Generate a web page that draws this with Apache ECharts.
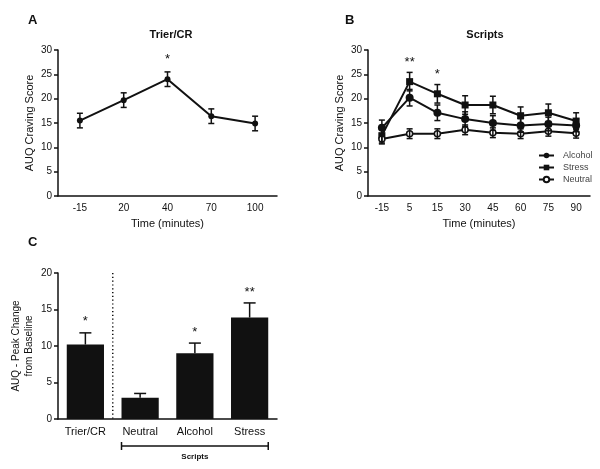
<!DOCTYPE html>
<html><head><meta charset="utf-8">
<script src="https://cdn.jsdelivr.net/npm/echarts@6/dist/echarts.min.js"></script>
<style>html,body{margin:0;padding:0;background:#fff}#c{width:600px;height:469px}</style>
</head><body><div id="c"></div>
<script>
const timesA = ['-15','20','40','70','100'];
const trierMean = [15.5,19.7,24.0,16.4,14.9];
const trierErr = [1.5,1.5,1.5,1.5,1.5];
const trierStars = ['','','*','',''];

const timesB = ['-15','5','15','30','45','60','75','90'];
const alcoholMean = [14.0,20.2,17.1,15.8,15.0,14.5,14.8,14.5];
const alcoholErr = [1.6,1.7,1.6,1.5,1.5,1.4,1.4,1.3];
const stressMean = [12.4,23.5,21.0,18.7,18.7,16.5,17.1,15.4];
const stressErr = [1.5,1.9,1.9,1.9,1.8,1.8,1.8,1.7];
const neutralMean = [11.7,12.8,12.8,13.6,13.0,12.8,13.3,12.9];
const neutralErr = [1.0,1.0,1.0,1.0,1.0,1.0,1.0,1.0];
const scriptStars = ['','**','*','','','','',''];

const peakCats = ['Trier/CR','Neutral','Alcohol','Stress'];
const peakMean = [10.2,2.9,9.0,13.9];
const peakErr = [1.6,0.6,1.4,2.0];
const peakStars = ['*','','*','**'];

const FONT = '"Liberation Sans", Arial, sans-serif';
const INK = '#111';

function errData(means, errs, stars){
  return means.map((m,i)=>[i, m, errs[i], stars ? stars[i] : '']);
}
function errRender(capW, starGap, upOnly){
  return function(params, api){
    const i = api.value(0), m = api.value(1), e = api.value(2);
    const star = api.value(3);
    const top = api.coord([i, m + e]);
    const bot = api.coord([i, upOnly ? m : m - e]);
    const st = {stroke: INK, lineWidth: 1.5};
    const children = [
      {type:'line', shape:{x1:top[0], y1:top[1], x2:bot[0], y2:bot[1]}, style:st},
      {type:'line', shape:{x1:top[0]-capW, y1:top[1], x2:top[0]+capW, y2:top[1]}, style:st}
    ];
    if (!upOnly) children.push({type:'line', shape:{x1:bot[0]-capW, y1:bot[1], x2:bot[0]+capW, y2:bot[1]}, style:st});
    if (star) children.push({type:'text', style:{text: star, x: top[0], y: top[1]-starGap, align:'center', verticalAlign:'middle', fontSize:13, fontFamily:FONT, fill:INK}});
    return {type:'group', children};
  };
}

function yAxisCfg(gi, max, name, gap){
  return {
    type:'value', gridIndex:gi, min:0, max:max, interval:5,
    name:name, nameLocation:'middle', nameGap:gap, nameRotate:90,
    nameTextStyle:{fontSize: gi===2?10:11, fontFamily:FONT, color:INK, lineHeight:13},
    splitLine:{show:false},
    axisLine:{show:true, lineStyle:{color:INK, width:1.5}},
    axisTick:{show:true, length:4, lineStyle:{color:INK, width:1.5}},
    axisLabel:{fontSize:10, fontFamily:FONT, color:INK, margin:6}
  };
}
function xAxisCfg(gi, data, name, fs){
  return {
    type:'category', gridIndex:gi, data:data,
    name:name, nameLocation:'middle', nameGap:22,
    nameTextStyle:{fontSize:11, fontFamily:FONT, color:INK},
    axisLine:{show:true, lineStyle:{color:INK, width:1.5}},
    axisTick:{show:false},
    axisLabel:{fontSize:fs, fontFamily:FONT, color:INK, margin:7, interval:0}
  };
}

const chart = echarts.init(document.getElementById('c'), null, {renderer:'canvas'});
const titleStyle = {fontSize:11, fontWeight:'bold', fontFamily:FONT, color:INK};
const letterStyle = {fontSize:13, fontWeight:'bold', fontFamily:FONT, color:INK};

chart.setOption({
  animation:false,
  backgroundColor:'#fff',
  title:[
    {text:'A', left:23, top:9, textStyle:letterStyle},
    {text:'Trier/CR', left:166, top:24, textAlign:'center', textStyle:titleStyle},
    {text:'B', left:340, top:9, textStyle:letterStyle},
    {text:'Scripts', left:480, top:24, textAlign:'center', textStyle:titleStyle},
    {text:'C', left:23, top:231, textStyle:letterStyle}
  ],
  legend:{
    data:['Alcohol','Stress','Neutral'], orient:'vertical', left:533, top:146,
    itemWidth:15, itemHeight:7, itemGap:3,
    textStyle:{fontSize:9, fontFamily:FONT, color:'#444', padding:[0,0,0,4]}
  },
  grid:[
    {left:58, top:50, width:219, height:146},
    {left:368, top:50, width:222, height:146},
    {left:58, top:273, width:219, height:146}
  ],
  xAxis:[
    xAxisCfg(0, timesA, 'Time (minutes)', 10),
    xAxisCfg(1, timesB, 'Time (minutes)', 10),
    xAxisCfg(2, peakCats, '', 11)
  ],
  yAxis:[
    yAxisCfg(0, 30, 'AUQ Craving Score', 22),
    yAxisCfg(1, 30, 'AUQ Craving Score', 22),
    yAxisCfg(2, 20, 'AUQ - Peak Change\nfrom Baseline', 22)
  ],
  series:[
    {type:'line', name:'Trier/CR', xAxisIndex:0, yAxisIndex:0, data:trierMean,
     symbol:'circle', symbolSize:6, lineStyle:{color:INK, width:2}, itemStyle:{color:INK}, z:3},
    {type:'custom', name:'errA', xAxisIndex:0, yAxisIndex:0, data:errData(trierMean, trierErr, trierStars),
     renderItem:errRender(3, 12, false), clip:false, z:4},

    {type:'line', name:'Alcohol', xAxisIndex:1, yAxisIndex:1, data:alcoholMean,
     symbol:'circle', symbolSize:8, lineStyle:{color:INK, width:2}, itemStyle:{color:INK}, z:3},
    {type:'line', name:'Stress', xAxisIndex:1, yAxisIndex:1, data:stressMean,
     symbol:'rect', symbolSize:7, lineStyle:{color:INK, width:2}, itemStyle:{color:INK}, z:3},
    {type:'line', name:'Neutral', xAxisIndex:1, yAxisIndex:1, data:neutralMean,
     symbol:'circle', symbolSize:6, showAllSymbol:true, lineStyle:{color:INK, width:2},
     itemStyle:{color:'#fff', borderColor:INK, borderWidth:1.5}, z:3},
    {type:'custom', name:'errS', xAxisIndex:1, yAxisIndex:1, data:errData(stressMean, stressErr, scriptStars),
     renderItem:errRender(3, 10, false), clip:false, z:4},
    {type:'custom', name:'errAl', xAxisIndex:1, yAxisIndex:1, data:errData(alcoholMean, alcoholErr, null),
     renderItem:errRender(3, 10, false), clip:false, z:4},
    {type:'custom', name:'errN', xAxisIndex:1, yAxisIndex:1, data:errData(neutralMean, neutralErr, null),
     renderItem:errRender(3, 10, false), clip:false, z:4},

    {type:'bar', name:'Peak', xAxisIndex:2, yAxisIndex:2, data:peakMean, barWidth:'68%',
     itemStyle:{color:INK}, z:3},
    {type:'custom', name:'errC', xAxisIndex:2, yAxisIndex:2, data:errData(peakMean, peakErr, peakStars),
     renderItem:errRender(6, 11, true), clip:false, z:4},
    {type:'custom', name:'decor', xAxisIndex:2, yAxisIndex:2, data:[[0]], clip:false, z:5,
     renderItem:function(params, api){
       const c0 = api.coord([0,0]), c1 = api.coord([1,0]), c3 = api.coord([3,0]);
       const topY = api.coord([0,20])[1];
       const bw = api.size([1,0])[0];
       const sepX = (c0[0]+c1[0])/2;
       const l = c1[0] - bw*0.34, r = c3[0] + bw*0.34, y = c0[1] + 27;
       const st = {stroke:INK, lineWidth:1.5};
       return {type:'group', children:[
         {type:'line', shape:{x1:sepX, y1:topY, x2:sepX, y2:c0[1]}, style:{stroke:INK, lineWidth:1.5, lineDash:[1.2,2.6]}},
         {type:'line', shape:{x1:l, y1:y, x2:r, y2:y}, style:st},
         {type:'line', shape:{x1:l, y1:y-4, x2:l, y2:y+4}, style:st},
         {type:'line', shape:{x1:r, y1:y-4, x2:r, y2:y+4}, style:st},
         {type:'text', style:{text:'Scripts', x:(l+r)/2, y:y+11, align:'center', verticalAlign:'middle', fontSize:8, fontWeight:'bold', fontFamily:FONT, fill:INK}}
       ]};
     }}
  ]
});
</script></body></html>
